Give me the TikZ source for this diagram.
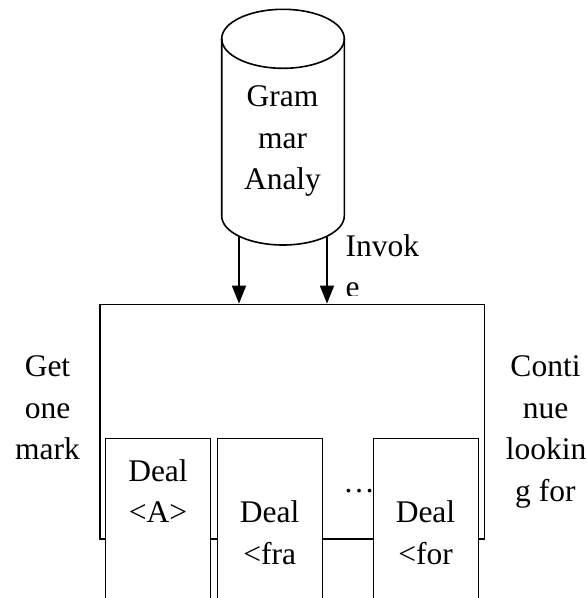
\documentclass[tikz,border=0pt]{standalone}
\usepackage{fontspec}
\setmainfont{Liberation Serif}
\usetikzlibrary{arrows.meta}
\begin{document}
\begin{tikzpicture}[x=1pt,y=1pt,
 lbl/.style={font=\fontsize{31.5}{41.5}\selectfont, inner sep=0pt, anchor=base},
 lblw/.style={font=\fontsize{31.5}{41.5}\selectfont, inner sep=0pt, anchor=base west},
 frame/.style={draw, line width=1.8pt, inner sep=0pt},
 dealbox/.style={draw, fill=white, line width=1.3pt, inner sep=0pt, minimum width=105pt, minimum height=181.3pt},
 cyl/.style={line width=1.6pt},
 arr/.style={line width=1.8pt, -{Triangle[length=18pt,width=14pt]}}]
\useasboundingbox (0,0) rectangle (587,-598);
\clip (0,0) rectangle (587,-598);
% cylinder
\draw[cyl] (221.7,-38.8) -- (221.7,-216) arc[start angle=180,end angle=360,x radius=61.3,y radius=29] -- (344.3,-38.8);
\draw[cyl] (283,-38.8) ellipse [x radius=61.3, y radius=29.5];
\node[lbl] (c1) at (282.5,-106) {Gram};
\node[lbl] (c2) at (282.5,-148) {mar};
\node[lbl] (c3) at (282.5,-189.5) {Analy};
\coordinate (a1) at (239,-236.5);
\coordinate (a2) at (327,-236.5);
% big frame
\node[frame, minimum width=384.5pt, minimum height=234.5pt] (big) at (292.25,-421.75) {};
\draw[arr] (a1) -- (a1 |- big.north);
\draw[arr] (a2) -- (a2 |- big.north);
% invoke label
\node[lblw] (i1) at (345.5,-256) {Invok};
\begin{scope}
\clip (330,-270) rectangle (420,-295);
\node[lblw] (i2) at (345.5,-297.5) {e};
\end{scope}
% side labels
\node[lbl] (g1) at (47.5,-376.5) {Get};
\node[lbl] (g2) at (47.5,-418) {one};
\node[lbl] (g3) at (47.5,-459.5) {mark};
\node[lbl] (k1) at (545.5,-376.5) {Conti};
\node[lbl] (k2) at (545.5,-418) {nue};
\node[lbl] (k3) at (546,-459.5) {lookin};
\node[lbl] (k4) at (545.4,-501) {g for};
% deal boxes
\node[dealbox, minimum width=104.6pt] (b1) at (158,-529.35) {};
\node[dealbox, minimum width=105.5pt] (b2) at (270,-529.35) {};
\node[dealbox, minimum width=104.8pt] (b3) at (425.9,-529.35) {};
\node[lbl] (d1a) at (158,-481.7) {Deal};
\node[lbl] (d1b) at (158,-522.7) {<A>};
\node[lbl] (d2a) at (269.7,-522.5) {Deal};
\node[lbl] (d2b) at (269.7,-564) {<fra};
\node[lbl] (d3a) at (425.5,-522.5) {Deal};
\node[lbl] (d3b) at (425.5,-564) {<for};
\node[lbl] (dots) at (359,-492) {…};
\end{tikzpicture}
\end{document}
